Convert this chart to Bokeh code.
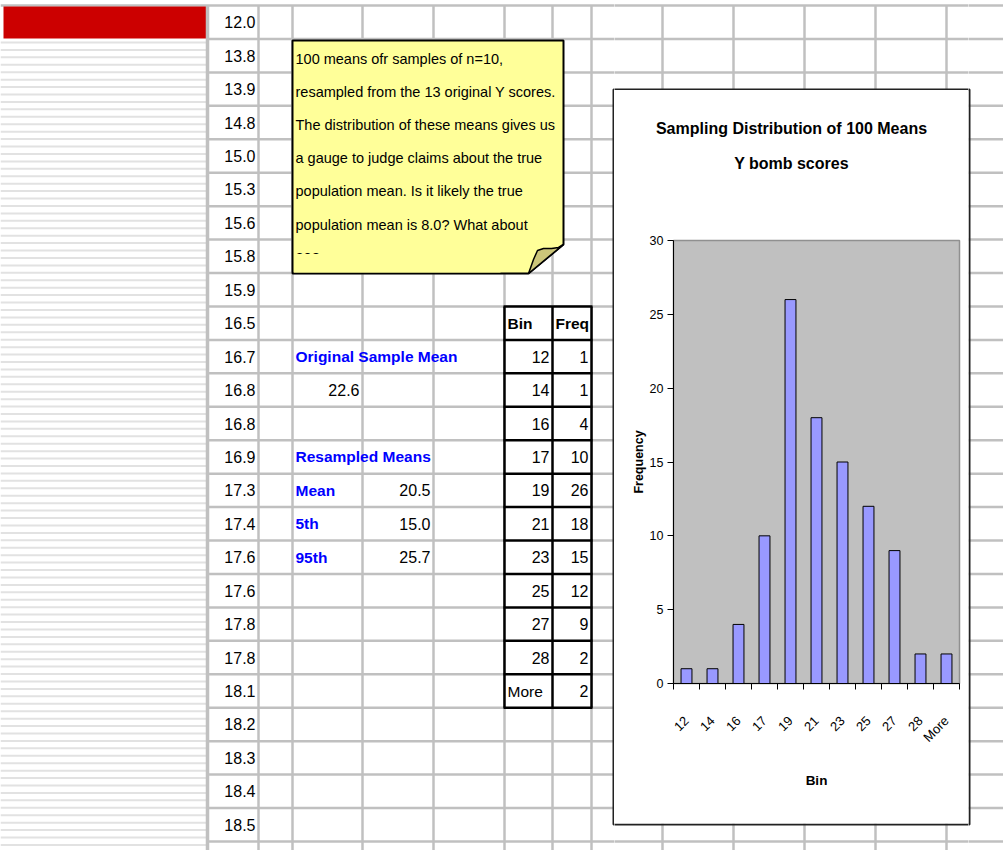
import math
import numpy as np
from bokeh.plotting import figure
from bokeh.layouts import column, row
from bokeh.models import Range1d, FixedTicker
from bokeh.core.properties import value
from bokeh.embed import file_html
from bokeh.resources import INLINE

# ---------------- data ----------------
bins = ["12", "14", "16", "17", "19", "21", "23", "25", "27", "28", "More"]
freq = [1, 1, 4, 10, 26, 18, 15, 12, 9, 2, 2]
y_ticks = [0, 5, 10, 15, 20, 25, 30]
chart_title = ["Sampling Distribution of 100 Means", "Y bomb scores"]
x_label = "Bin"
y_label = "Frequency"

col_b = ["12.0", "13.8", "13.9", "14.8", "15.0", "15.3", "15.6", "15.8", "15.9",
         "16.5", "16.7", "16.8", "16.8", "16.9", "17.3", "17.4", "17.6", "17.6",
         "17.8", "17.8", "18.1", "18.2", "18.3", "18.4", "18.5"]
original_label = "Original Sample Mean"
original_mean = "22.6"
resampled_label = "Resampled Means"
summary_names = ["Mean", "5th", "95th"]
summary_values = ["20.5", "15.0", "25.7"]
table_header = ["Bin", "Freq"]
note_lines = ["100 means ofr samples of n=10,",
              "resampled from the 13 original Y scores.",
              "The distribution of these means gives us",
              "a gauge to judge claims about the true",
              "population mean.  Is it likely the true",
              "population mean is  8.0?  What about",
              "20?"]

# ---------------- layout constants (page pixels) ----------------
FONT = "Liberation Sans"
ROW_TOP = 5.0
RH = 33.44
COLS = [258, 292, 362, 433, 504, 552, 591, 662, 733, 804, 875, 946]
GRID = "#C0C0C0"
NUM_SIZE = "16px"
LABEL_SIZE = "15.5px"


def rc(i):
    return ROW_TOP + RH * (i + 0.5)


def rl(i):
    return ROW_TOP + RH * i


def no_align(p):
    try:
        p.frame_align = False
    except Exception:
        pass


def txt(p, xs, ys, texts, align="left", color="black", style="normal", size=NUM_SIZE):
    p.text(x=xs, y=ys, text=texts, text_align=align, text_baseline="middle",
           text_color=color, text_font=value(FONT), text_font_style=style,
           text_font_size=size)


def bare(x0, x1, y0, y1):
    p = figure(width=x1 - x0, height=y1 - y0, x_range=Range1d(x0, x1),
               y_range=Range1d(y1, y0), toolbar_location=None, output_backend="svg",
               x_axis_location=None, y_axis_location=None, min_border=0)
    p.grid.visible = False
    p.outline_line_color = None
    p.background_fill_color = "white"
    p.border_fill_color = "white"
    no_align(p)
    return p


def sheet(x0, x1, y0, y1, with_text):
    p = bare(x0, x1, y0, y1)
    # column A stripes
    ys = np.arange(42.0, 852.0, 7.43)
    p.segment(x0=0, x1=206, y0=ys, y1=ys, line_color="#E2E2E2", line_width=2)
    # top border line
    p.segment(x0=[0], x1=[1003], y0=[5], y1=[5], line_color=GRID, line_width=2.5)
    # red bar
    p.quad(left=[3], right=[206], top=[6], bottom=[38], fill_color="#CC0000", line_color=None)
    # row lines
    hy = [rl(i) for i in range(1, 26)]
    p.segment(x0=207, x1=1003, y0=hy, y1=hy, line_color=GRID, line_width=2.5)
    # column lines
    p.segment(x0=[207], x1=[207], y0=[5], y1=[850], line_color=GRID, line_width=3.5)
    p.segment(x0=COLS, x1=COLS, y0=5, y1=850, line_color=GRID, line_width=2.5)

    n = len(bins)
    # frequency table lines
    ty = [rl(i) for i in range(9, 9 + n + 2)]
    p.quad(left=[504], right=[591], top=[rl(9)], bottom=[rl(9 + n + 1)], fill_color="white", line_color=None)
    p.segment(x0=503, x1=592, y0=ty, y1=ty, line_color="black", line_width=2.5)
    p.segment(x0=[504, 552, 591], x1=[504, 552, 591], y0=rl(9), y1=rl(9 + n + 1),
              line_color="black", line_width=2.5)

    # sticky note
    p.patch(x=[292, 563, 563, 528, 292], y=[40, 40, 244, 273, 273],
            fill_color="#FFFF99", line_color="black", line_width=2)

    if with_text:
        # column B values
        txt(p, [255] * len(col_b), [rc(i) for i in range(len(col_b))], col_b, align="right")
        # summary block
        blue = "#0000FF"
        txt(p, [295, 295], [rc(10), rc(13)], [original_label, resampled_label],
            color=blue, style="bold", size=LABEL_SIZE)
        txt(p, [359], [rc(11)], [original_mean], align="right")
        txt(p, [295] * 3, [rc(14), rc(15), rc(16)], summary_names, color=blue, style="bold", size=LABEL_SIZE)
        txt(p, [430] * 3, [rc(14), rc(15), rc(16)], summary_values, align="right")
        # table text
        txt(p, [507, 555], [rc(9), rc(9)], table_header, style="bold", size=LABEL_SIZE)
        bin_num = [b for b in bins if b != "More"]
        txt(p, [549] * len(bin_num), [rc(10 + i) for i in range(len(bin_num))], bin_num, align="right")
        txt(p, [507], [rc(10 + len(bin_num))], ["More"], size=LABEL_SIZE)
        txt(p, [588] * n, [rc(10 + i) for i in range(n)], [str(f) for f in freq], align="right")
        # note text
        ny = [58 + 33.2 * i for i in range(len(note_lines))]
        txt(p, [295] * len(note_lines), ny, note_lines, size="14.5px")
        p.quad(left=[293.5], right=[500], top=[253.5], bottom=[272], fill_color="#FFFF99", line_color=None)

    p.patch(x=[528, 533, 537, 543, 551, 558, 563], y=[273, 259, 250, 248, 248, 247, 244],
            fill_color="#CCC67A", line_color="black", line_width=1.5)

    # chart box border
    p.quad(left=[613], right=[969], top=[89], bottom=[824], fill_color="white",
           line_color="#222222", line_width=2)
    return p


left = sheet(0, 614, 0, 850, True)
topmid = sheet(614, 968, 0, 90, False)
botmid = sheet(614, 968, 823, 850, False)
right = sheet(968, 1003, 0, 850, False)

# title area of chart
tf = bare(614, 968, 90, 200)
txt(tf, [791, 791], [128, 163], chart_title, align="center", style="bold", size="16px")

# chart
c = figure(width=354, height=623, x_range=Range1d(0, len(bins)), y_range=Range1d(0, 30),
           toolbar_location=None, output_backend="svg",
           min_border_left=59, min_border_right=9, min_border_top=40, min_border_bottom=140)
no_align(c)
c.background_fill_color = "#C0C0C0"
c.border_fill_color = "white"
c.outline_line_color = "#909090"
c.outline_line_width = 1.5
c.grid.visible = False
xs = list(np.arange(len(bins)) + 0.5)
c.vbar(x=xs, top=freq, width=0.42, fill_color="#9999FF", line_color="black", line_width=1)

xa = c.xaxis[0]
xa.ticker = FixedTicker(ticks=xs, minor_ticks=list(range(len(bins) + 1)))
xa.major_label_overrides = {float(x): b for x, b in zip(xs, bins)}
xa.major_label_orientation = math.pi / 4
xa.major_tick_out = 0
xa.major_tick_in = 0
xa.minor_tick_out = 6
xa.minor_tick_in = 0
xa.minor_tick_line_color = "black"
xa.axis_line_color = "black"
xa.major_label_text_font = FONT
xa.major_label_text_font_size = "13px"
xa.major_label_text_color = "black"
xa.major_label_standoff = 29
xa.axis_label = x_label
xa.axis_label_text_font = FONT
xa.axis_label_text_font_size = "13.5px"
xa.axis_label_text_font_style = "bold"
xa.axis_label_text_color = "black"
xa.axis_label_standoff = 20

ya = c.yaxis[0]
ya.ticker = FixedTicker(ticks=y_ticks)
ya.major_tick_out = 6
ya.major_tick_in = 0
ya.minor_tick_out = 0
ya.minor_tick_in = 0
ya.major_tick_line_color = "black"
ya.axis_line_color = "black"
ya.major_label_text_font = FONT
ya.major_label_text_font_size = "12.5px"
ya.major_label_text_color = "black"
ya.major_label_standoff = 4
ya.axis_label = y_label
ya.axis_label_text_font = FONT
ya.axis_label_text_font_size = "12.5px"
ya.axis_label_text_font_style = "bold"
ya.axis_label_text_color = "black"
ya.axis_label_standoff = 1

layout = row(left, column(topmid, tf, c, botmid), right)

open("out.html", "w").write(file_html(layout, INLINE))
